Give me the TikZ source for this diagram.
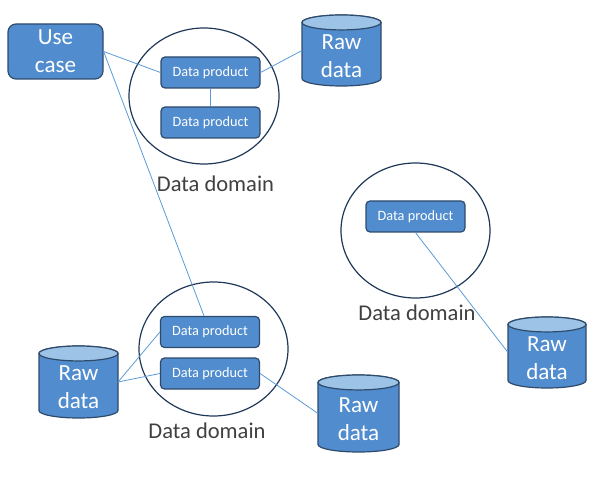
\documentclass[tikz,border=0pt]{standalone}
\usepackage{fontspec}
\setmainfont{Carlito}
\usetikzlibrary{shapes.geometric}

\definecolor{boxfill}{RGB}{80,140,206}
\definecolor{boxline}{RGB}{47,75,108}
\definecolor{toplight}{RGB}{157,195,230}
\definecolor{ringline}{RGB}{31,56,88}
\definecolor{wirecol}{RGB}{91,155,213}
\definecolor{captext}{RGB}{64,64,64}

\tikzset{
  product/.style={draw=boxline, fill=boxfill, line width=0.9pt, rounded corners=3pt,
    minimum width=74.25pt, minimum height=23.25pt, inner sep=0pt, text=white,
    font=\fontsize{10.7}{12}\selectfont},
  usecase/.style={draw=boxline, fill=boxfill, line width=0.9pt, rounded corners=6pt,
    minimum width=71.25pt, minimum height=41.25pt, inner sep=0pt, text=white,
    align=center, font=\fontsize{17.3}{21}\selectfont},
  domainring/.style={ellipse, draw=ringline, line width=0.9pt, inner sep=0pt},
  domainlabel/.style={text=captext, font=\fontsize{16.9}{19}\selectfont, anchor=base},
  wire/.style={draw=wirecol, line width=0.6pt},
  dbbody/.style={fill=boxfill, draw=boxline, line width=0.9pt},
  dbtop/.style={fill=toplight, draw=boxline, line width=0.9pt},
  dbtext/.style={text=white, align=center, font=\fontsize{17.3}{21}\selectfont},
}

% half height of the cylinder end caps
\newcommand\dbry{5.6pt}
% database cylinder: name, centre x, centre y, width, height
\newcommand\dbcyl[5]{%
  \node[minimum width=#4, minimum height=#5, inner sep=0pt, outer sep=0pt] (#1) at (#2,#3) {};
  \draw[dbbody] ([yshift=-\dbry]#1.north west) -- ([yshift=\dbry]#1.south west)
    arc[start angle=180, end angle=360, x radius=#4/2, y radius=\dbry]
    -- ([yshift=-\dbry]#1.north east)
    arc[start angle=0, end angle=180, x radius=#4/2, y radius=\dbry] -- cycle;
  \draw[dbtop] ([yshift=-\dbry]#1.north) ellipse[x radius=#4/2, y radius=\dbry];
  \node[dbtext] at ([yshift=-0.7*\dbry]#1.center) {Raw\\data};
}

\begin{document}
\begin{tikzpicture}[x=0.75pt, y=-0.75pt]
  \useasboundingbox (0,0) rectangle (598,484);

  % domains
  \node[domainring, minimum width=112.5pt, minimum height=102pt] (dom1) at (204,96) {};
  \node[domainring, minimum width=111.75pt, minimum height=101.25pt] (dom2) at (415.5,230.5) {};
  \node[domainring, minimum width=111.75pt, minimum height=100.5pt] (dom3) at (213.5,349) {};
  \node[domainlabel] (lab1) at (215.5,192) {Data domain};
  \node[domainlabel] (lab2) at (417,320) {Data domain};
  \node[domainlabel] (lab3) at (207,438) {Data domain};

  % data products
  \node[product] (p1) at (210.5,72.5) {Data product};
  \node[product] (p2) at (210.5,122.5) {Data product};
  \node[product] (p3) at (415.5,216.5) {Data product};
  \node[product] (p4) at (210,332) {Data product};
  \node[product] (p5) at (210,373.5) {Data product};

  % use case
  \node[usecase] (uc) at (55.5,51.5) {Use\\case};

  % raw data stores
  \dbcyl{raw1}{341.5}{50.5}{59.25pt}{53.25pt}
  \dbcyl{raw2}{547}{352.5}{58.5pt}{53.25pt}
  \dbcyl{raw3}{78.5}{382}{59.25pt}{54pt}
  \dbcyl{raw4}{358.5}{413.5}{60.75pt}{57.75pt}

  % connectors
  \draw[wire] (uc.east) -- (p1.west);
  \draw[wire] (uc.east) -- ([xshift=-4.5pt]p4.north);
  \draw[wire] (p1.south) -- (p2.north);
  \draw[wire] (p1.east) -- (raw1.west);
  \draw[wire] (p3.south) -- (raw2.west);
  \draw[wire] (raw3.east) -- (p4.west);
  \draw[wire] (raw3.east) -- (p5.west);
  \draw[wire] (p5.east) -- (raw4.west);
\end{tikzpicture}
\end{document}
